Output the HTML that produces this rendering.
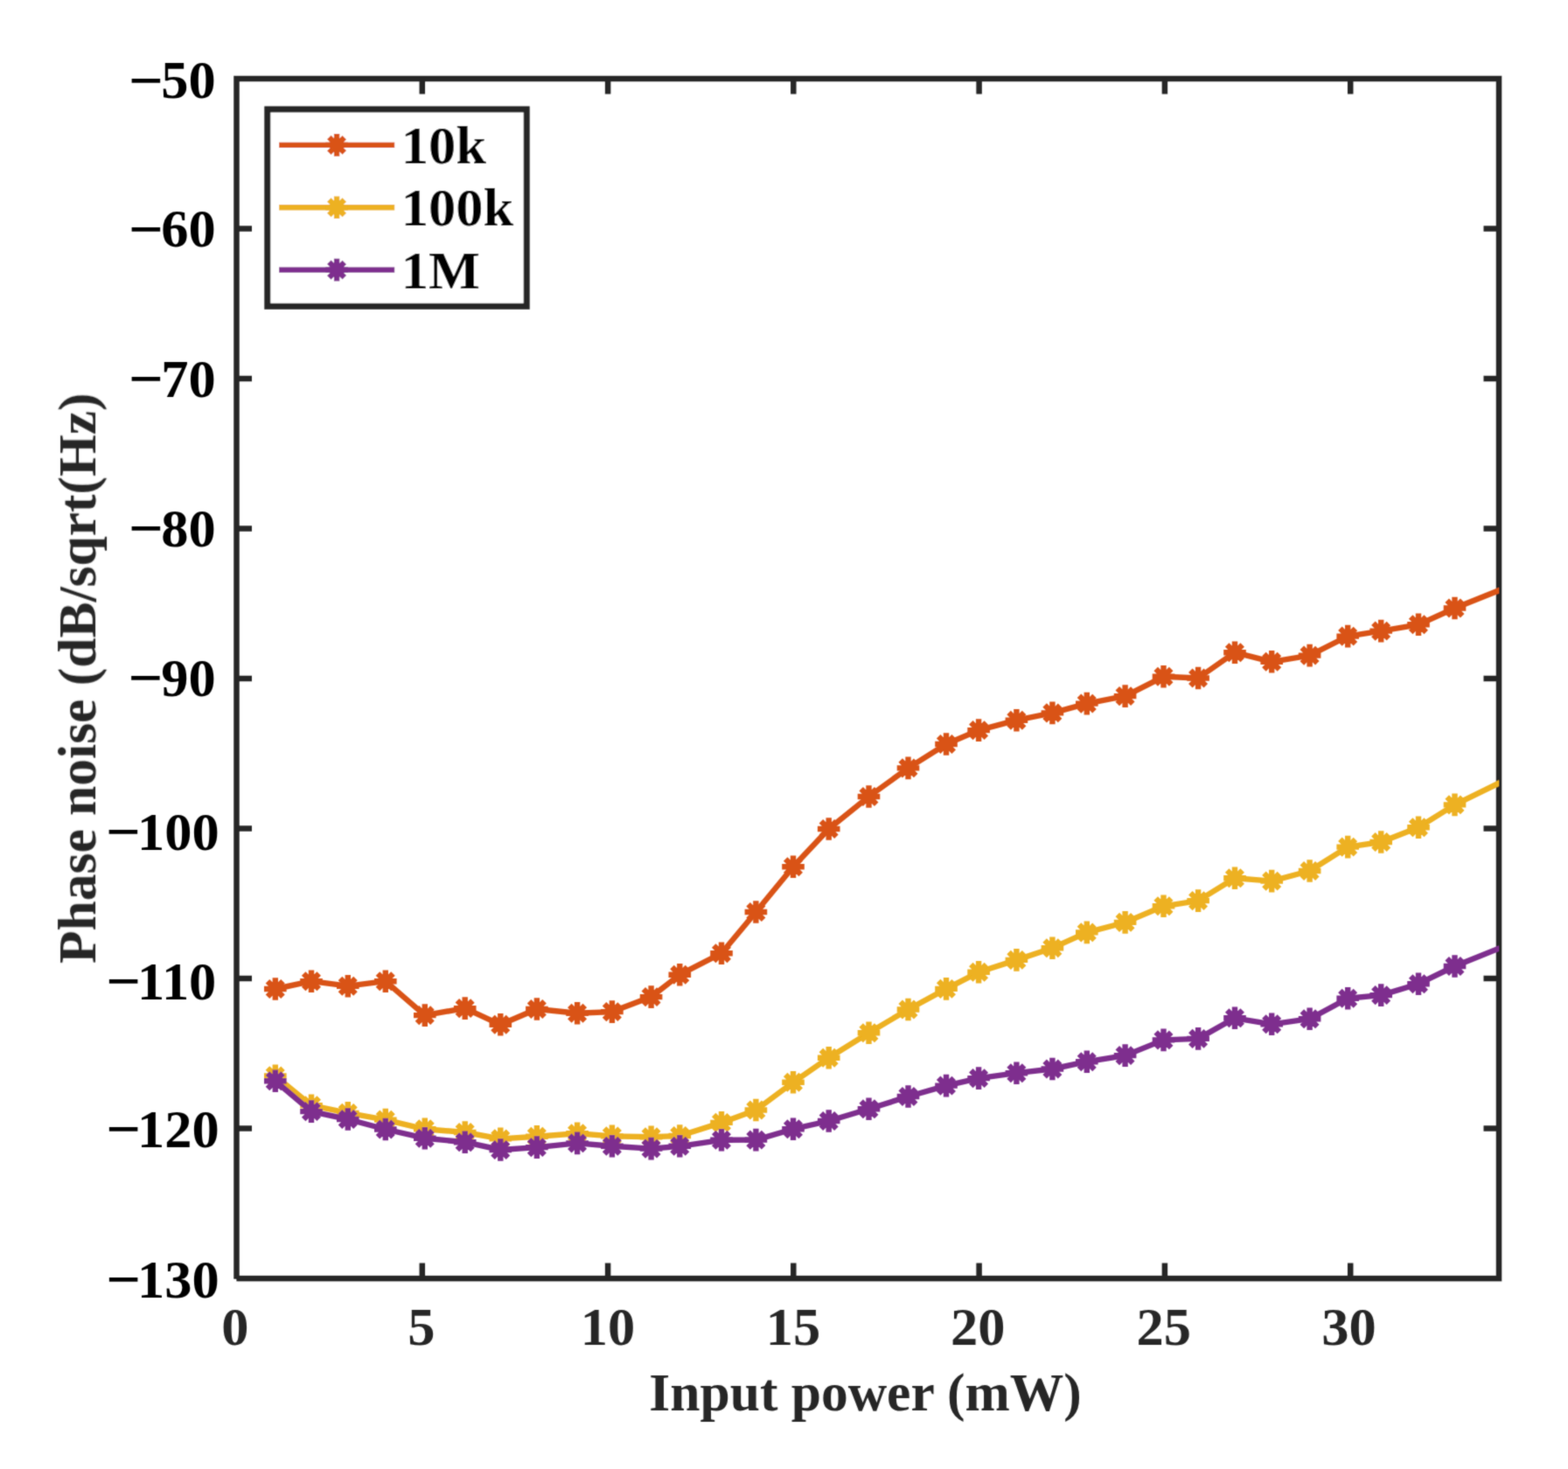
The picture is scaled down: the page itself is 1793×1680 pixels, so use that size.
<!DOCTYPE html>
<html><head><meta charset="utf-8"><title>Phase noise vs input power</title>
<style>
html,body{margin:0;padding:0;background:#fff;}
body{width:1793px;height:1680px;overflow:hidden;}
svg{display:block;}
text{font-family:"Liberation Serif","Times New Roman",serif;font-weight:bold;}
</style></head>
<body>
<svg width="1793" height="1680" viewBox="0 0 1793 1680">
<rect width="1793" height="1680" fill="#fff"/>
<defs><filter id="soft" x="0" y="0" width="1793" height="1680" filterUnits="userSpaceOnUse"><feConvolveMatrix order="3" kernelMatrix="1 4 1 4 16 4 1 4 1" divisor="36" edgeMode="duplicate"/></filter><clipPath id="ax"><rect x="270.5" y="90" width="1443.5" height="1372.1"/></clipPath></defs>
<g filter="url(#soft)">
<path d="M482.8 1462.1v-17.5M482.8 90v17.5M695.1 1462.1v-17.5M695.1 90v17.5M907.3 1462.1v-17.5M907.3 90v17.5M1119.6 1462.1v-17.5M1119.6 90v17.5M1331.9 1462.1v-17.5M1331.9 90v17.5M1544.2 1462.1v-17.5M1544.2 90v17.5M270.5 261.5h17.5M1714 261.5h-17.5M270.5 433h17.5M1714 433h-17.5M270.5 604.5h17.5M1714 604.5h-17.5M270.5 776h17.5M1714 776h-17.5M270.5 947.6h17.5M1714 947.6h-17.5M270.5 1119.1h17.5M1714 1119.1h-17.5M270.5 1290.6h17.5M1714 1290.6h-17.5" stroke="#262626" stroke-width="6.5" fill="none"/>
<rect x="270.5" y="90" width="1443.5" height="1372.1" fill="none" stroke="#262626" stroke-width="6.5"/>
<rect x="266.5" y="1462.9" width="3.7" height="4" fill="#fff"/>
<g clip-path="url(#ax)">
<path d="M314.8 1131 L356 1122.2 L397.8 1127.7 L440.8 1122.2 L485.8 1161.1 L531.7 1153.1 L572.3 1171.8 L613.9 1154 L660.1 1158.8 L699.9 1157.1 L744.6 1140.1 L777.3 1114.7 L825 1090.2 L864.4 1043 L907 991.2 L947.7 948 L993.5 911 L1038.5 878.4 L1082 851 L1119.1 835.1 L1162.4 823.7 L1203.4 815.4 L1242.8 804.6 L1286.6 796.1 L1330.5 773.8 L1370.1 775.5 L1412 746.2 L1454.2 756.8 L1497.6 749.6 L1541.2 727.6 L1579.2 721.6 L1622 714.3 L1663.5 695.5 L1754.4 659.1" fill="none" stroke="#D95319" stroke-width="6.4" stroke-linejoin="round"/>
<path d="M302 1131h25.6M314.8 1118.2v25.6M306 1122.2l17.5 17.5M306 1139.8l17.5 -17.5M343.2 1122.2h25.6M356 1109.4v25.6M347.2 1113.4l17.5 17.5M347.2 1131l17.5 -17.5M385 1127.7h25.6M397.8 1114.9v25.6M389 1118.9l17.5 17.5M389 1136.5l17.5 -17.5M428 1122.2h25.6M440.8 1109.4v25.6M432 1113.4l17.5 17.5M432 1131l17.5 -17.5M473 1161.1h25.6M485.8 1148.3v25.6M477 1152.3l17.5 17.5M477 1169.9l17.5 -17.5M518.9 1153.1h25.6M531.7 1140.3v25.6M522.9 1144.3l17.5 17.5M522.9 1161.9l17.5 -17.5M559.5 1171.8h25.6M572.3 1159v25.6M563.5 1163l17.5 17.5M563.5 1180.6l17.5 -17.5M601.1 1154h25.6M613.9 1141.2v25.6M605.1 1145.2l17.5 17.5M605.1 1162.8l17.5 -17.5M647.3 1158.8h25.6M660.1 1146v25.6M651.3 1150l17.5 17.5M651.3 1167.6l17.5 -17.5M687.1 1157.1h25.6M699.9 1144.3v25.6M691.1 1148.3l17.5 17.5M691.1 1165.9l17.5 -17.5M731.8 1140.1h25.6M744.6 1127.3v25.6M735.8 1131.3l17.5 17.5M735.8 1148.9l17.5 -17.5M764.5 1114.7h25.6M777.3 1101.9v25.6M768.5 1105.9l17.5 17.5M768.5 1123.5l17.5 -17.5M812.2 1090.2h25.6M825 1077.4v25.6M816.2 1081.4l17.5 17.5M816.2 1099l17.5 -17.5M851.6 1043h25.6M864.4 1030.2v25.6M855.6 1034.2l17.5 17.5M855.6 1051.8l17.5 -17.5M894.2 991.2h25.6M907 978.4v25.6M898.2 982.4l17.5 17.5M898.2 1000l17.5 -17.5M934.9 948h25.6M947.7 935.2v25.6M938.9 939.2l17.5 17.5M938.9 956.8l17.5 -17.5M980.7 911h25.6M993.5 898.2v25.6M984.7 902.2l17.5 17.5M984.7 919.8l17.5 -17.5M1025.7 878.4h25.6M1038.5 865.6v25.6M1029.7 869.6l17.5 17.5M1029.7 887.2l17.5 -17.5M1069.2 851h25.6M1082 838.2v25.6M1073.2 842.2l17.5 17.5M1073.2 859.8l17.5 -17.5M1106.3 835.1h25.6M1119.1 822.3v25.6M1110.3 826.3l17.5 17.5M1110.3 843.9l17.5 -17.5M1149.6 823.7h25.6M1162.4 810.9v25.6M1153.6 814.9l17.5 17.5M1153.6 832.5l17.5 -17.5M1190.6 815.4h25.6M1203.4 802.6v25.6M1194.6 806.6l17.5 17.5M1194.6 824.2l17.5 -17.5M1230 804.6h25.6M1242.8 791.8v25.6M1234 795.8l17.5 17.5M1234 813.4l17.5 -17.5M1273.8 796.1h25.6M1286.6 783.3v25.6M1277.8 787.3l17.5 17.5M1277.8 804.9l17.5 -17.5M1317.7 773.8h25.6M1330.5 761v25.6M1321.7 765l17.5 17.5M1321.7 782.6l17.5 -17.5M1357.3 775.5h25.6M1370.1 762.7v25.6M1361.3 766.7l17.5 17.5M1361.3 784.3l17.5 -17.5M1399.2 746.2h25.6M1412 733.4v25.6M1403.2 737.4l17.5 17.5M1403.2 755l17.5 -17.5M1441.4 756.8h25.6M1454.2 744v25.6M1445.4 748l17.5 17.5M1445.4 765.6l17.5 -17.5M1484.8 749.6h25.6M1497.6 736.8v25.6M1488.8 740.8l17.5 17.5M1488.8 758.4l17.5 -17.5M1528.4 727.6h25.6M1541.2 714.8v25.6M1532.4 718.8l17.5 17.5M1532.4 736.4l17.5 -17.5M1566.4 721.6h25.6M1579.2 708.8v25.6M1570.4 712.8l17.5 17.5M1570.4 730.4l17.5 -17.5M1609.2 714.3h25.6M1622 701.5v25.6M1613.2 705.5l17.5 17.5M1613.2 723.1l17.5 -17.5M1650.7 695.5h25.6M1663.5 682.7v25.6M1654.7 686.7l17.5 17.5M1654.7 704.3l17.5 -17.5" fill="none" stroke="#D95319" stroke-width="6.4" stroke-linecap="butt"/>
<path d="M314.8 1230.4 L356 1264.2 L397.8 1272.9 L440.8 1280.6 L485.8 1291.3 L531.7 1295 L572.3 1302.4 L613.9 1299.7 L660.1 1296.3 L699.9 1299.4 L744.6 1300.2 L777.3 1299 L825 1283.9 L864.4 1269.5 L907 1237.8 L947.7 1209.7 L993.5 1181.2 L1038.5 1154.5 L1082 1130.9 L1119.1 1111.8 L1162.4 1097.9 L1203.4 1084.2 L1242.8 1066.4 L1286.6 1054.9 L1330.5 1036.3 L1370.1 1030.1 L1412 1004.3 L1454.2 1007.6 L1497.6 996 L1541.2 968.6 L1579.2 963 L1622 946.2 L1663.5 920.4 L1754.4 875.9" fill="none" stroke="#EDB120" stroke-width="6.4" stroke-linejoin="round"/>
<path d="M302 1230.4h25.6M314.8 1217.6v25.6M306 1221.6l17.5 17.5M306 1239.2l17.5 -17.5M343.2 1264.2h25.6M356 1251.4v25.6M347.2 1255.4l17.5 17.5M347.2 1273l17.5 -17.5M385 1272.9h25.6M397.8 1260.1v25.6M389 1264.1l17.5 17.5M389 1281.7l17.5 -17.5M428 1280.6h25.6M440.8 1267.8v25.6M432 1271.8l17.5 17.5M432 1289.4l17.5 -17.5M473 1291.3h25.6M485.8 1278.5v25.6M477 1282.5l17.5 17.5M477 1300.1l17.5 -17.5M518.9 1295h25.6M531.7 1282.2v25.6M522.9 1286.2l17.5 17.5M522.9 1303.8l17.5 -17.5M559.5 1302.4h25.6M572.3 1289.6v25.6M563.5 1293.6l17.5 17.5M563.5 1311.2l17.5 -17.5M601.1 1299.7h25.6M613.9 1286.9v25.6M605.1 1290.9l17.5 17.5M605.1 1308.5l17.5 -17.5M647.3 1296.3h25.6M660.1 1283.5v25.6M651.3 1287.5l17.5 17.5M651.3 1305.1l17.5 -17.5M687.1 1299.4h25.6M699.9 1286.6v25.6M691.1 1290.6l17.5 17.5M691.1 1308.2l17.5 -17.5M731.8 1300.2h25.6M744.6 1287.4v25.6M735.8 1291.4l17.5 17.5M735.8 1309l17.5 -17.5M764.5 1299h25.6M777.3 1286.2v25.6M768.5 1290.2l17.5 17.5M768.5 1307.8l17.5 -17.5M812.2 1283.9h25.6M825 1271.1v25.6M816.2 1275.1l17.5 17.5M816.2 1292.7l17.5 -17.5M851.6 1269.5h25.6M864.4 1256.7v25.6M855.6 1260.7l17.5 17.5M855.6 1278.3l17.5 -17.5M894.2 1237.8h25.6M907 1225v25.6M898.2 1229l17.5 17.5M898.2 1246.6l17.5 -17.5M934.9 1209.7h25.6M947.7 1196.9v25.6M938.9 1200.9l17.5 17.5M938.9 1218.5l17.5 -17.5M980.7 1181.2h25.6M993.5 1168.4v25.6M984.7 1172.4l17.5 17.5M984.7 1190l17.5 -17.5M1025.7 1154.5h25.6M1038.5 1141.7v25.6M1029.7 1145.7l17.5 17.5M1029.7 1163.3l17.5 -17.5M1069.2 1130.9h25.6M1082 1118.1v25.6M1073.2 1122.1l17.5 17.5M1073.2 1139.7l17.5 -17.5M1106.3 1111.8h25.6M1119.1 1099v25.6M1110.3 1103l17.5 17.5M1110.3 1120.6l17.5 -17.5M1149.6 1097.9h25.6M1162.4 1085.1v25.6M1153.6 1089.1l17.5 17.5M1153.6 1106.7l17.5 -17.5M1190.6 1084.2h25.6M1203.4 1071.4v25.6M1194.6 1075.4l17.5 17.5M1194.6 1093l17.5 -17.5M1230 1066.4h25.6M1242.8 1053.6v25.6M1234 1057.6l17.5 17.5M1234 1075.2l17.5 -17.5M1273.8 1054.9h25.6M1286.6 1042.1v25.6M1277.8 1046.1l17.5 17.5M1277.8 1063.7l17.5 -17.5M1317.7 1036.3h25.6M1330.5 1023.5v25.6M1321.7 1027.5l17.5 17.5M1321.7 1045.1l17.5 -17.5M1357.3 1030.1h25.6M1370.1 1017.3v25.6M1361.3 1021.3l17.5 17.5M1361.3 1038.9l17.5 -17.5M1399.2 1004.3h25.6M1412 991.5v25.6M1403.2 995.5l17.5 17.5M1403.2 1013.1l17.5 -17.5M1441.4 1007.6h25.6M1454.2 994.8v25.6M1445.4 998.8l17.5 17.5M1445.4 1016.4l17.5 -17.5M1484.8 996h25.6M1497.6 983.2v25.6M1488.8 987.2l17.5 17.5M1488.8 1004.8l17.5 -17.5M1528.4 968.6h25.6M1541.2 955.8v25.6M1532.4 959.8l17.5 17.5M1532.4 977.4l17.5 -17.5M1566.4 963h25.6M1579.2 950.2v25.6M1570.4 954.2l17.5 17.5M1570.4 971.8l17.5 -17.5M1609.2 946.2h25.6M1622 933.4v25.6M1613.2 937.4l17.5 17.5M1613.2 955l17.5 -17.5M1650.7 920.4h25.6M1663.5 907.6v25.6M1654.7 911.6l17.5 17.5M1654.7 929.2l17.5 -17.5" fill="none" stroke="#EDB120" stroke-width="6.4" stroke-linecap="butt"/>
<path d="M314.8 1236.3 L356 1271.1 L397.8 1280 L440.8 1291.5 L485.8 1301.7 L531.7 1306.2 L572.3 1315 L613.9 1312.1 L660.1 1307.4 L699.9 1310.7 L744.6 1313.6 L777.3 1310.8 L825 1303.8 L864.4 1303.6 L907 1291.2 L947.7 1282 L993.5 1268.2 L1038.5 1254 L1082 1241.6 L1119.1 1233.1 L1162.4 1227.2 L1203.4 1222.5 L1242.8 1214.2 L1286.6 1207.1 L1330.5 1189.4 L1370.1 1187.9 L1412 1164.3 L1454.2 1171.3 L1497.6 1165.2 L1541.2 1141.7 L1579.2 1138.1 L1622 1125.2 L1663.5 1105 L1754.4 1068.3" fill="none" stroke="#7E2F8E" stroke-width="6.4" stroke-linejoin="round"/>
<path d="M302 1236.3h25.6M314.8 1223.5v25.6M306 1227.5l17.5 17.5M306 1245.1l17.5 -17.5M343.2 1271.1h25.6M356 1258.3v25.6M347.2 1262.3l17.5 17.5M347.2 1279.9l17.5 -17.5M385 1280h25.6M397.8 1267.2v25.6M389 1271.2l17.5 17.5M389 1288.8l17.5 -17.5M428 1291.5h25.6M440.8 1278.7v25.6M432 1282.7l17.5 17.5M432 1300.3l17.5 -17.5M473 1301.7h25.6M485.8 1288.9v25.6M477 1292.9l17.5 17.5M477 1310.5l17.5 -17.5M518.9 1306.2h25.6M531.7 1293.4v25.6M522.9 1297.4l17.5 17.5M522.9 1315l17.5 -17.5M559.5 1315h25.6M572.3 1302.2v25.6M563.5 1306.2l17.5 17.5M563.5 1323.8l17.5 -17.5M601.1 1312.1h25.6M613.9 1299.3v25.6M605.1 1303.3l17.5 17.5M605.1 1320.9l17.5 -17.5M647.3 1307.4h25.6M660.1 1294.6v25.6M651.3 1298.6l17.5 17.5M651.3 1316.2l17.5 -17.5M687.1 1310.7h25.6M699.9 1297.9v25.6M691.1 1301.9l17.5 17.5M691.1 1319.5l17.5 -17.5M731.8 1313.6h25.6M744.6 1300.8v25.6M735.8 1304.8l17.5 17.5M735.8 1322.4l17.5 -17.5M764.5 1310.8h25.6M777.3 1298v25.6M768.5 1302l17.5 17.5M768.5 1319.6l17.5 -17.5M812.2 1303.8h25.6M825 1291v25.6M816.2 1295l17.5 17.5M816.2 1312.6l17.5 -17.5M851.6 1303.6h25.6M864.4 1290.8v25.6M855.6 1294.8l17.5 17.5M855.6 1312.4l17.5 -17.5M894.2 1291.2h25.6M907 1278.4v25.6M898.2 1282.4l17.5 17.5M898.2 1300l17.5 -17.5M934.9 1282h25.6M947.7 1269.2v25.6M938.9 1273.2l17.5 17.5M938.9 1290.8l17.5 -17.5M980.7 1268.2h25.6M993.5 1255.4v25.6M984.7 1259.4l17.5 17.5M984.7 1277l17.5 -17.5M1025.7 1254h25.6M1038.5 1241.2v25.6M1029.7 1245.2l17.5 17.5M1029.7 1262.8l17.5 -17.5M1069.2 1241.6h25.6M1082 1228.8v25.6M1073.2 1232.8l17.5 17.5M1073.2 1250.4l17.5 -17.5M1106.3 1233.1h25.6M1119.1 1220.3v25.6M1110.3 1224.3l17.5 17.5M1110.3 1241.9l17.5 -17.5M1149.6 1227.2h25.6M1162.4 1214.4v25.6M1153.6 1218.4l17.5 17.5M1153.6 1236l17.5 -17.5M1190.6 1222.5h25.6M1203.4 1209.7v25.6M1194.6 1213.7l17.5 17.5M1194.6 1231.3l17.5 -17.5M1230 1214.2h25.6M1242.8 1201.4v25.6M1234 1205.4l17.5 17.5M1234 1223l17.5 -17.5M1273.8 1207.1h25.6M1286.6 1194.3v25.6M1277.8 1198.3l17.5 17.5M1277.8 1215.9l17.5 -17.5M1317.7 1189.4h25.6M1330.5 1176.6v25.6M1321.7 1180.6l17.5 17.5M1321.7 1198.2l17.5 -17.5M1357.3 1187.9h25.6M1370.1 1175.1v25.6M1361.3 1179.1l17.5 17.5M1361.3 1196.7l17.5 -17.5M1399.2 1164.3h25.6M1412 1151.5v25.6M1403.2 1155.5l17.5 17.5M1403.2 1173.1l17.5 -17.5M1441.4 1171.3h25.6M1454.2 1158.5v25.6M1445.4 1162.5l17.5 17.5M1445.4 1180.1l17.5 -17.5M1484.8 1165.2h25.6M1497.6 1152.4v25.6M1488.8 1156.4l17.5 17.5M1488.8 1174l17.5 -17.5M1528.4 1141.7h25.6M1541.2 1128.9v25.6M1532.4 1132.9l17.5 17.5M1532.4 1150.5l17.5 -17.5M1566.4 1138.1h25.6M1579.2 1125.3v25.6M1570.4 1129.3l17.5 17.5M1570.4 1146.9l17.5 -17.5M1609.2 1125.2h25.6M1622 1112.4v25.6M1613.2 1116.4l17.5 17.5M1613.2 1134l17.5 -17.5M1650.7 1105h25.6M1663.5 1092.2v25.6M1654.7 1096.2l17.5 17.5M1654.7 1113.8l17.5 -17.5" fill="none" stroke="#7E2F8E" stroke-width="6.4" stroke-linecap="butt"/>
</g>
<g font-size="62.5" fill="#000">
<text y="112.4" transform="matrix(1 0 0 0.97 0 3.372)"><tspan x="147" y="114.8" font-size="70">&#8722;</tspan><tspan x="184.2" y="112.4">50</tspan></text>
<text y="282.5" transform="matrix(1 0 0 0.97 0 8.475)"><tspan x="147" y="284.9" font-size="70">&#8722;</tspan><tspan x="184.2" y="282.5">60</tspan></text>
<text y="454" transform="matrix(1 0 0 0.97 0 13.620)"><tspan x="147" y="456.4" font-size="70">&#8722;</tspan><tspan x="184.2" y="454">70</tspan></text>
<text y="624.7" transform="matrix(1 0 0 0.97 0 18.741)"><tspan x="147" y="627.1" font-size="70">&#8722;</tspan><tspan x="184.2" y="624.7">80</tspan></text>
<text y="796" transform="matrix(1 0 0 0.97 0 23.880)"><tspan x="146.6" y="798.4" font-size="70">&#8722;</tspan><tspan x="184.2" y="796">90</tspan></text>
<text y="971.6" transform="matrix(1 0 0 0.97 0 29.148)"><tspan x="121.1" y="974" font-size="70">&#8722;</tspan><tspan x="157.1" y="971.6">100</tspan></text>
<text y="1142.7" transform="matrix(1 0 0 0.97 0 34.281)"><tspan x="121.2" y="1145.1" font-size="70">&#8722;</tspan><tspan x="157.1" y="1142.7">110</tspan></text>
<text y="1312" transform="matrix(1 0 0 0.97 0 39.360)"><tspan x="121.3" y="1314.4" font-size="70">&#8722;</tspan><tspan x="157.1" y="1312">120</tspan></text>
<text y="1483.6" transform="matrix(1 0 0 0.97 0 44.508)"><tspan x="121.2" y="1486" font-size="70">&#8722;</tspan><tspan x="157.1" y="1483.6">130</tspan></text>
</g>
<g font-size="62.5" fill="#262626">
<text x="268.8" y="1538.3" text-anchor="middle" transform="matrix(1 0 0 0.97 0 46.149)">0</text>
<text x="481.9" y="1538.3" text-anchor="middle" transform="matrix(1 0 0 0.97 0 46.149)">5</text>
<text x="695" y="1538.3" text-anchor="middle" transform="matrix(1 0 0 0.97 0 46.149)">10</text>
<text x="907" y="1538.3" text-anchor="middle" transform="matrix(1 0 0 0.97 0 46.149)">15</text>
<text x="1118.2" y="1538.3" text-anchor="middle" transform="matrix(1 0 0 0.97 0 46.149)">20</text>
<text x="1330.7" y="1538.3" text-anchor="middle" transform="matrix(1 0 0 0.97 0 46.149)">25</text>
<text x="1542.5" y="1538.3" text-anchor="middle" transform="matrix(1 0 0 0.97 0 46.149)">30</text>
</g>
<text x="989.5" y="1612.8" text-anchor="middle" font-size="61.5" fill="#262626">Input power (mW)</text>
<text transform="translate(109.1 775.7) rotate(-90)" text-anchor="middle" font-size="61.5" fill="#262626">Phase noise (dB/sqrt(Hz)</text>
<g font-size="62.5" fill="#000">
<rect x="305.8" y="125" width="296.4" height="225.3" fill="#fff" stroke="#262626" stroke-width="7.0"/>
<path d="M319.1 165.9H451.2" stroke="#D95319" stroke-width="6.4"/>
<path d="M372.3 165.9h25.6M385.1 153.1v25.6M376.3 157.1l17.5 17.5M376.3 174.7l17.5 -17.5" fill="none" stroke="#D95319" stroke-width="6.4"/>
<text x="458.8" y="187" transform="matrix(1 0 0 0.97 0 5.610)">10k</text>
<path d="M319.1 237.3H451.2" stroke="#EDB120" stroke-width="6.4"/>
<path d="M372.3 237.3h25.6M385.1 224.5v25.6M376.3 228.5l17.5 17.5M376.3 246.1l17.5 -17.5" fill="none" stroke="#EDB120" stroke-width="6.4"/>
<text x="458.8" y="258.4" transform="matrix(1 0 0 0.97 0 7.752)">100k</text>
<path d="M319.1 308.6H451.2" stroke="#7E2F8E" stroke-width="6.4"/>
<path d="M372.3 308.6h25.6M385.1 295.8v25.6M376.3 299.8l17.5 17.5M376.3 317.4l17.5 -17.5" fill="none" stroke="#7E2F8E" stroke-width="6.4"/>
<text x="458.8" y="329.8" transform="matrix(1 0 0 0.97 0 9.894)">1M</text>
</g>
</g>
</svg>
</body></html>
